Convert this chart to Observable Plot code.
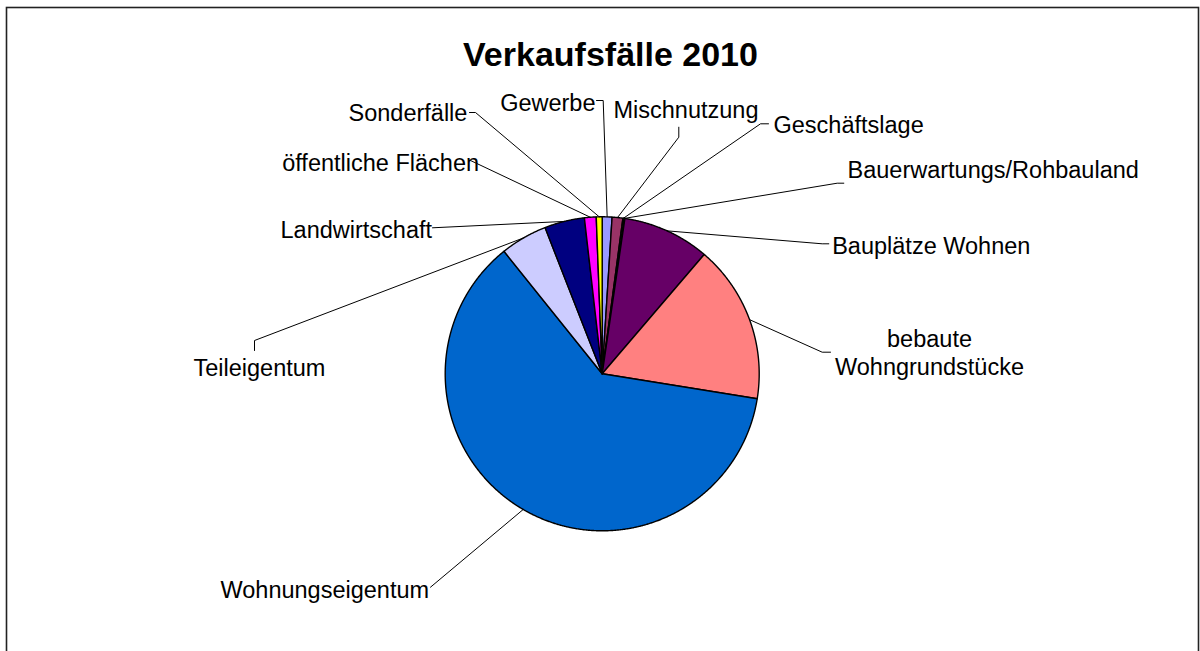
<!DOCTYPE html>
<html>
<head>
<meta charset="utf-8">
<script src="https://cdn.jsdelivr.net/npm/d3@7"></script>
<script src="https://cdn.jsdelivr.net/npm/@observablehq/plot@0.6"></script>
<style>
  html, body { margin: 0; padding: 0; background: #fff; overflow: hidden; }
</style>
</head>
<body>
<div id="chart"></div>
<script>
// ---------------- DATA ----------------
const chartTitle = "Verkaufsfälle 2010";
const categories = [
  "Gewerbe", "Mischnutzung", "Geschäftslage", "Bauerwartungs/Rohbauland",
  "Bauplätze Wohnen", "bebaute Wohngrundstücke", "Wohnungseigentum",
  "Teileigentum", "Landwirtschaft", "öffentliche Flächen", "Sonderfälle"
];
const sales = [10, 11, 1, 1, 89, 162, 614, 48, 41, 12, 6];
const sliceColors = [
  "#9999FF", "#993366", "#FFFFCC", "#CCFFFF", "#660066", "#FF8080",
  "#0066CC", "#CCCCFF", "#000080", "#FF00FF", "#FFFF00"
];
const labelLines = [
  ["Gewerbe"], ["Mischnutzung"], ["Geschäftslage"], ["Bauerwartungs/Rohbauland"],
  ["Bauplätze Wohnen"], ["bebaute", "Wohngrundstücke"], ["Wohnungseigentum"],
  ["Teileigentum"], ["Landwirtschaft"], ["öffentliche Flächen"], ["Sonderfälle"]
];

// ---------------- LAYOUT ----------------
const W = 1200, H = 651;
const CX = 601.7, CY = 373.3, R = 157;     // pie centre / radius (px)
const FR = {left: 6, top: 7, right: 1198};  // chart border
const LABEL_SIZE = 23.5, TITLE_SIZE = 34;
const titlePos = {x: 610, y: 54.5};
// label placement (px): anchor, x, first line centre y, line gap, leader elbow points
const labelLayout = [
  {anchor: "end",    x: 595,   y: 102.5, elbow: [[602.7, 100], [596, 100]]},
  {anchor: "start",  x: 613,   y: 110,   elbow: [[678.3, 136.7], [678.3, 126.7]]},
  {anchor: "start",  x: 773,   y: 124.5, elbow: [[760, 123.3], [768, 123.3]]},
  {anchor: "start",  x: 847,   y: 170,   elbow: [[836.7, 182.7], [843.3, 182.7]]},
  {anchor: "start",  x: 831.7, y: 245.5, elbow: [[821.7, 243.3], [828.3, 243.3]]},
  {anchor: "middle", x: 929,   y: 339,   gap: 27.5, elbow: [[821.7, 351.7], [830, 351.7]]},
  {anchor: "start",  x: 220,   y: 590,   elbow: [[430, 586.7]]},
  {anchor: "start",  x: 193,   y: 368,   elbow: [[254, 340], [254, 350]]},
  {anchor: "start",  x: 280,   y: 230,   elbow: [[432, 227.3]]},
  {anchor: "start",  x: 281.7, y: 162.5, elbow: [[470, 160]]},
  {anchor: "start",  x: 348,   y: 113,   elbow: [[475, 112], [469, 112]]}
];

// px -> unit coordinates of the x/y scales
const toU = px => (px - CX) / R;
const toV = py => (CY - py) / R;

// ---------------- DERIVED ----------------
const arcs = d3.pie().sort(null).startAngle(0).endAngle(2 * Math.PI)(sales);

const slicePts = [];
arcs.forEach((a, i) => {
  const name = categories[i], color = sliceColors[i];
  slicePts.push({name, color, x: 0, y: 0});
  const n = Math.max(2, Math.ceil((a.endAngle - a.startAngle) / (Math.PI / 720)));
  for (let k = 0; k <= n; k++) {
    const t = a.startAngle + (a.endAngle - a.startAngle) * k / n;
    slicePts.push({name, color, x: Math.sin(t), y: Math.cos(t)});
  }
});

const leaderPts = [];
const textRows = [];
arcs.forEach((a, i) => {
  const name = categories[i];
  const m = (a.startAngle + a.endAngle) / 2;
  const L = labelLayout[i];
  leaderPts.push({name, x: Math.sin(m), y: Math.cos(m)});
  L.elbow.forEach(([px, py]) => leaderPts.push({name, x: toU(px), y: toV(py)}));
  labelLines[i].forEach((line, j) => {
    textRows.push({text: line, anchor: L.anchor, x: toU(L.x), y: toV(L.y + j * (L.gap || 0))});
  });
});

const font = "'Liberation Sans', Arial, sans-serif";
const textMark = anchor => Plot.text(textRows.filter(d => d.anchor === anchor), {
  x: "x", y: "y", text: "text", textAnchor: anchor,
  fontSize: LABEL_SIZE, fontFamily: font, fill: "black"
});

const plot = Plot.plot({
  width: W, height: H,
  marginLeft: FR.left, marginRight: W - FR.right, marginTop: FR.top, marginBottom: 0,
  x: {domain: [toU(FR.left), toU(FR.right)], axis: null},
  y: {domain: [toV(H), toV(FR.top)], axis: null},
  color: {type: "identity"},
  style: {fontFamily: font, background: "white", overflow: "hidden"},
  marks: [
    Plot.frame({stroke: "#222", strokeWidth: 1.6, insetBottom: -20}),
    Plot.line(slicePts, {x: "x", y: "y", z: "name", fill: "color", stroke: "black",
      strokeWidth: 1.4, strokeLinejoin: "round", curve: "linear-closed"}),
    Plot.line(leaderPts, {x: "x", y: "y", z: "name", stroke: "black", strokeWidth: 1}),
    textMark("start"), textMark("end"), textMark("middle"),
    Plot.text([{t: chartTitle, x: toU(titlePos.x), y: toV(titlePos.y)}], {
      x: "x", y: "y", text: "t", fontSize: TITLE_SIZE, fontWeight: "bold",
      fontFamily: font, fill: "black"
    })
  ]
});
document.getElementById("chart").appendChild(plot);
</script>
</body>
</html>
